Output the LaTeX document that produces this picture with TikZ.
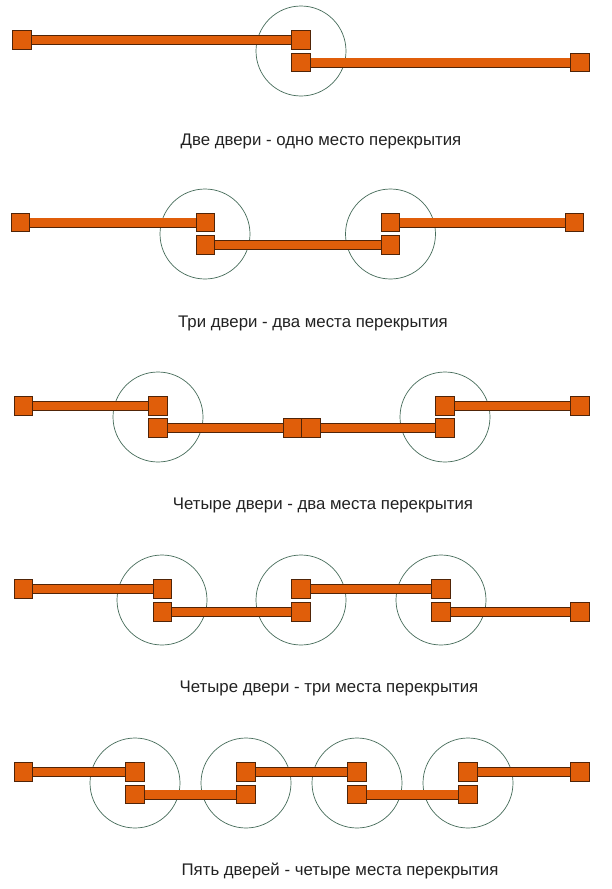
\documentclass[tikz,border=0pt]{standalone}
\usepackage{fontspec}
\setmainfont{Liberation Sans}
\usepackage{tikz}
\definecolor{doororange}{RGB}{224,94,10}
\definecolor{doorframe}{RGB}{80,36,8}
\definecolor{ringgray}{RGB}{70,108,90}
\definecolor{captiongray}{RGB}{34,34,34}
\tikzstyle{stop} = [rectangle, draw=doorframe, fill=doororange, line width=0.7pt,
                    minimum size=18.5pt, inner sep=0pt]
\tikzstyle{bar} = [draw=doorframe, line width=0.7pt, double=doororange, double distance=8.6pt]
\tikzstyle{ring} = [circle, draw=ringgray, line width=0.7pt, minimum size=90pt, inner sep=0pt]
\tikzstyle{caption} = [text=captiongray, font=\fontsize{16.8}{20}\selectfont]

\begin{document}
\begin{tikzpicture}[x=1pt, y=-1pt]
\useasboundingbox[fill=white] (0,0) rectangle (612,889);

% two doors
\node [ring] (o1) at (301,51) {};
\node [stop] (a1) at (22,40) {};
\node [stop, right of=a1, node distance=279pt] (a2) {};
\node [stop, below of=a2, node distance=22.5pt] (a3) {};
\node [stop, right of=a3, node distance=279pt] (a4) {};
\path [bar] (a1.east) -- (a2.west);
\path [bar] (a3.east) -- (a4.west);
\node [caption] (t1) at (321,141) {Две двери - одно место перекрытия};

% three doors
\node [ring] (o2) at (205,234) {};
\node [ring] (o3) at (390.5,234) {};
\node [stop] (b1) at (20.5,222.5) {};
\node [stop, right of=b1, node distance=185pt] (b2) {};
\node [stop, below of=b2, node distance=22.5pt] (b3) {};
\node [stop, right of=b3, node distance=185pt] (b4) {};
\node [stop, above of=b4, node distance=22.5pt] (b5) {};
\node [stop, right of=b5, node distance=184pt] (b6) {};
\path [bar] (b1.east) -- (b2.west);
\path [bar] (b3.east) -- (b4.west);
\path [bar] (b5.east) -- (b6.west);
\node [caption] (t2) at (313,323) {Три двери - два места перекрытия};

% four doors, two overlaps
\node [ring] (o4) at (158,417) {};
\node [ring] (o5) at (445,417) {};
\node [stop] (c1) at (23.4,406) {};
\node [stop, right of=c1, node distance=134.6pt] (c2) {};
\node [stop, below of=c2, node distance=22pt] (c3) {};
\node [stop, right of=c3, node distance=134.5pt] (c4) {};
\node [stop, right of=c4, node distance=18.5pt] (c5) {};
\node [stop, right of=c5, node distance=134pt] (c6) {};
\node [stop, above of=c6, node distance=22pt] (c7) {};
\node [stop, right of=c7, node distance=135pt] (c8) {};
\path [bar] (c1.east) -- (c2.west);
\path [bar] (c3.east) -- (c4.west);
\path [bar] (c5.east) -- (c6.west);
\path [bar] (c7.east) -- (c8.west);
\node [caption] (t3) at (323,505) {Четыре двери - два места перекрытия};

% four doors, three overlaps
\node [ring] (o6) at (162,600) {};
\node [ring] (o7) at (301,600) {};
\node [ring] (o8) at (441,600) {};
\node [stop] (d1) at (23.4,589) {};
\node [stop, right of=d1, node distance=139pt] (d2) {};
\node [stop, below of=d2, node distance=23pt] (d3) {};
\node [stop, right of=d3, node distance=138.6pt] (d4) {};
\node [stop, above of=d4, node distance=23pt] (d5) {};
\node [stop, right of=d5, node distance=140pt] (d6) {};
\node [stop, below of=d6, node distance=23pt] (d7) {};
\node [stop, right of=d7, node distance=139pt] (d8) {};
\path [bar] (d1.east) -- (d2.west);
\path [bar] (d3.east) -- (d4.west);
\path [bar] (d5.east) -- (d6.west);
\path [bar] (d7.east) -- (d8.west);
\node [caption] (t4) at (329,688) {Четыре двери - три места перекрытия};

% five doors
\node [ring] (o9) at (135,783) {};
\node [ring] (o10) at (246,783) {};
\node [ring] (o11) at (357,783) {};
\node [ring] (o12) at (468,783) {};
\node [stop] (e1) at (23.4,772) {};
\node [stop, right of=e1, node distance=111.6pt] (e2) {};
\node [stop, below of=e2, node distance=22.5pt] (e3) {};
\node [stop, right of=e3, node distance=111pt] (e4) {};
\node [stop, above of=e4, node distance=22.5pt] (e5) {};
\node [stop, right of=e5, node distance=111pt] (e6) {};
\node [stop, below of=e6, node distance=22.5pt] (e7) {};
\node [stop, right of=e7, node distance=111pt] (e8) {};
\node [stop, above of=e8, node distance=22.5pt] (e9) {};
\node [stop, right of=e9, node distance=112pt] (e10) {};
\path [bar] (e1.east) -- (e2.west);
\path [bar] (e3.east) -- (e4.west);
\path [bar] (e5.east) -- (e6.west);
\path [bar] (e7.east) -- (e8.west);
\path [bar] (e9.east) -- (e10.west);
\node [caption] (t5) at (340,871) {Пять дверей - четыре места перекрытия};

\end{tikzpicture}
\end{document}
